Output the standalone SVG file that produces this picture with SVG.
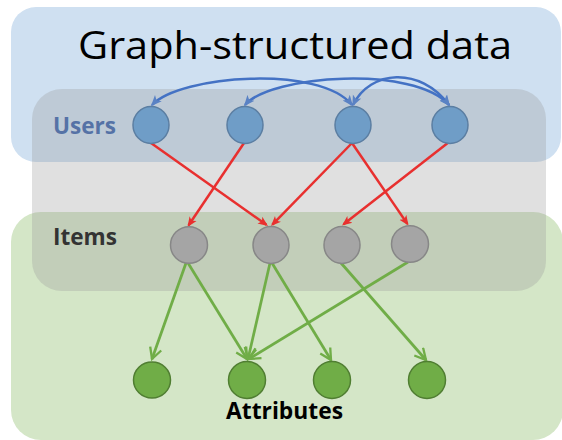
<svg xmlns="http://www.w3.org/2000/svg" width="562" height="440" viewBox="0 0 562 440">
  <style>
    .title { font-family: "Open Sans", "Liberation Sans", sans-serif; font-size: 38px; fill: #000; }
    .lbl { font-family: "Open Sans", "Liberation Sans", sans-serif; font-weight: bold; }
    .user { fill: #6f9dc7; stroke: #5b7ea2; stroke-width: 1.5; }
    .item { fill: #a5a5a5; stroke: #878787; stroke-width: 1.5; }
    .attr { fill: #70ad47; stroke: #507e32; stroke-width: 1.5; }
    .follow { fill: none; stroke: #4472c4; stroke-width: 2.5; marker-start: url(#headBlue); marker-end: url(#headBlue); }
    .rate { fill: none; stroke: #e8302f; stroke-width: 2.5; marker-end: url(#headRed); }
    .has { fill: none; stroke: #70ad47; stroke-width: 2.75; marker-end: url(#headGreen); }
  </style>
  <defs>
    <marker id="headBlue" viewBox="0 0 10 10" markerUnits="userSpaceOnUse" markerWidth="11" markerHeight="11" refX="8.5" refY="5" orient="auto-start-reverse">
      <path d="M0,0.8 L10,5 L0,9.2 L2.5,5 z" fill="#5a82c4"/>
    </marker>
    <marker id="headRed" viewBox="0 0 10 10" markerUnits="userSpaceOnUse" markerWidth="10" markerHeight="10" refX="8" refY="5" orient="auto">
      <path d="M0,0.8 L10,5 L0,9.2 L2.5,5 z" fill="#e8302f"/>
    </marker>
    <marker id="headGreen" viewBox="-1 -1 12 12" markerUnits="userSpaceOnUse" markerWidth="14" markerHeight="14" refX="9.5" refY="5" orient="auto">
      <path d="M0,0 L9.5,5 L0,10" fill="none" stroke="#70ad47" stroke-width="2" stroke-linejoin="miter"/>
    </marker>
  </defs>

  <!-- layer regions -->
  <g id="regions">
    <rect id="graph-region" x="11" y="7" width="550" height="155" rx="25" fill="#cfe0f1"/>
    <rect id="attr-region" x="11" y="212" width="552" height="228" rx="30" fill="#d4e6c7"/>
    <rect id="user-item-band" x="32" y="89" width="514" height="202" rx="30" fill="#999999" fill-opacity="0.3"/>
  </g>

  <text class="title" x="295" y="58.5" text-anchor="middle" textLength="434" lengthAdjust="spacingAndGlyphs">Graph-structured data</text>

  <!-- edges -->
  <g id="connectors">
    <!-- user-user links -->
    <path class="follow" d="M152,105 C180,75 320,65 352,105"/>
    <path class="follow" d="M245,105 C270,75 415,65 449,105"/>
    <path class="follow" d="M353,105 C370,70 420,66 449,105"/>
    <!-- user-item interactions -->
    <path class="rate" d="M151,143 L266.4,224.8"/>
    <path class="rate" d="M244,143 L188.6,225.3"/>
    <path class="rate" d="M352,143 L272.4,224.6"/>
    <path class="rate" d="M352,143 L407.4,223.9"/>
    <path class="rate" d="M449,142 L343.6,224.3"/>
    <!-- item-attribute links -->
    <path class="has" d="M186,263 L152,359"/>
    <path class="has" d="M188,263 L247,359"/>
    <path class="has" d="M270,263 L248,359"/>
    <path class="has" d="M272,263 L331,360"/>
    <path class="has" d="M341,263 L426,360"/>
    <path class="has" d="M408,262 L249,359"/>
  </g>

  <!-- users -->
  <g id="user1"><ellipse class="user" cx="151" cy="125" rx="18" ry="18.5"/></g>
  <g id="user2"><ellipse class="user" cx="245" cy="125" rx="18" ry="18.5"/></g>
  <g id="user3"><ellipse class="user" cx="353" cy="125" rx="18" ry="18.5"/></g>
  <g id="user4"><ellipse class="user" cx="450" cy="125" rx="18" ry="18.5"/></g>

  <!-- items -->
  <g id="item1"><ellipse class="item" cx="189" cy="245" rx="18.5" ry="18.3"/></g>
  <g id="item2"><ellipse class="item" cx="271" cy="245" rx="18" ry="18.5"/></g>
  <g id="item3"><ellipse class="item" cx="342" cy="245" rx="18" ry="18.5"/></g>
  <g id="item4"><ellipse class="item" cx="410" cy="244" rx="18.5" ry="18.3"/></g>

  <!-- attributes -->
  <g id="attr1"><ellipse class="attr" cx="152" cy="380" rx="18.5" ry="18"/></g>
  <g id="attr2"><ellipse class="attr" cx="247" cy="380" rx="18.5" ry="18.5"/></g>
  <g id="attr3"><ellipse class="attr" cx="332" cy="380" rx="18.5" ry="18.5"/></g>
  <g id="attr4"><ellipse class="attr" cx="427" cy="380" rx="18.5" ry="18.5"/></g>

  <!-- layer labels -->
  <g id="labels">
    <text class="lbl" x="53" y="133.5" font-size="23" fill="#5572a6" textLength="63" lengthAdjust="spacingAndGlyphs">Users</text>
    <text class="lbl" x="53" y="244.5" font-size="24" fill="#333333" textLength="64" lengthAdjust="spacingAndGlyphs">Items</text>
    <text class="lbl" x="226" y="419" font-size="24" fill="#000000" textLength="117" lengthAdjust="spacingAndGlyphs">Attributes</text>
  </g>
</svg>
